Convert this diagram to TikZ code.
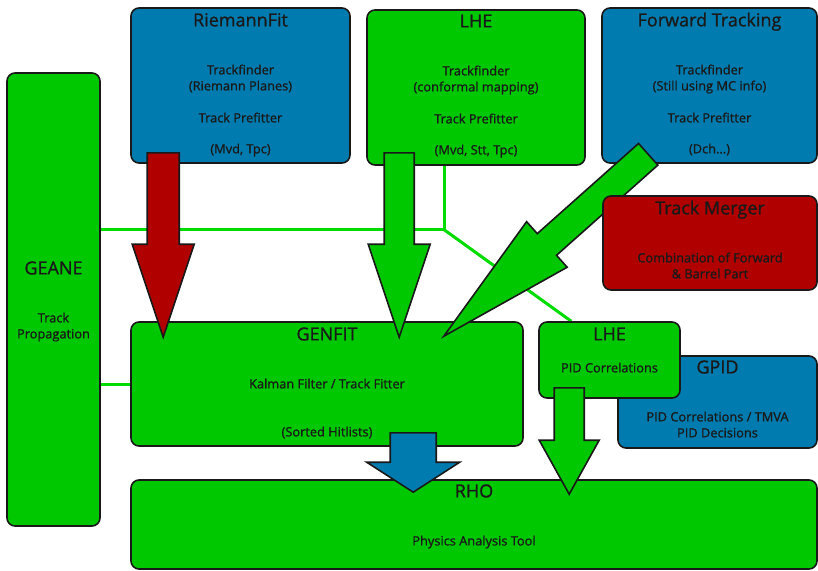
\documentclass[tikz,border=0pt]{standalone}
\usepackage{fontspec}
\setmainfont{Open Sans}[FakeBold=1]
\usetikzlibrary{calc,positioning}
\definecolor{fitgreen}{RGB}{0,200,0}
\definecolor{fitblue}{RGB}{0,123,176}
\definecolor{fitred}{RGB}{176,0,0}
\definecolor{wiregreen}{RGB}{0,220,0}
\definecolor{edge}{RGB}{25,25,25}
\pgfdeclarelayer{bg}
\pgfsetlayers{bg,main}
\newcommand{\titlef}{\fontsize{18}{22}\selectfont\rule{0pt}{15pt}}
\tikzstyle{box} = [draw=edge,line width=1.6pt,rounded corners=8pt]
\tikzstyle{boxtext} = [inner sep=0pt,align=center,text=edge,font=\fontsize{12.8}{16}\selectfont]
\tikzstyle{wire} = [wiregreen,line width=3pt]
\tikzstyle{bigarrow} = [draw=edge,line width=1.6pt,line join=miter]
% #1 start, #2 tip, #3 half shaft, #4 half head, #5 head length, #6 fill
\newcommand{\blockarrow}[6]{%
	\coordinate (hb) at ($(#2)!#5!(#1)$);
	\draw[bigarrow,fill=#6] ($(#1)!#3!90:(#2)$) -- ($(hb)!#3!-90:(#1)$) -- ($(hb)!#4!-90:(#1)$) -- (#2)
		-- ($(hb)!#4!90:(#1)$) -- ($(hb)!#3!90:(#1)$) -- ($(#1)!#3!-90:(#2)$) -- cycle;
}

\begin{document}
\begin{tikzpicture}[x=1pt,y=-1pt]
	\useasboundingbox (0,0) rectangle (818,570);
	% boxes
	\node[box,fill=fitgreen,minimum width=93pt,minimum height=453pt] (geane) at (53.5,299.5) {};
	\node[box,fill=fitblue,minimum width=219pt,minimum height=155pt] (riemann) at (240.5,85.5) {};
	\node[box,fill=fitgreen,minimum width=218pt,minimum height=155pt] (lhe) at (476,87.5) {};
	\node[box,fill=fitblue,minimum width=215pt,minimum height=155pt] (fwd) at (709.5,85.5) {};
	\node[box,fill=fitgreen,minimum width=392pt,minimum height=124pt] (genfit) at (327,384) {};
	\node[box,fill=fitblue,minimum width=199pt,minimum height=92pt] (gpid) at (717.5,402) {};
	\node[box,fill=fitgreen,minimum width=141pt,minimum height=76pt] (lhepid) at (609.5,360) {};
	\node[box,fill=fitgreen,minimum width=686pt,minimum height=89pt] (rho) at (474,524.5) {};

	\node[boxtext,below=187pt of geane.north] (geanetxt) {{\titlef GEANE}\\[32pt]Track\\Propagation};
	\node[boxtext,below=4pt of riemann.north] (riemanntxt) {{\titlef RiemannFit}\\[32pt]Trackfinder\\(Riemann Planes)\\[16pt]Track Prefitter\\[15pt](Mvd, Tpc)};
	\node[boxtext,below=3pt of lhe.north] (lhetxt) {{\titlef LHE}\\[32pt]Trackfinder\\(conformal mapping)\\[16pt]Track Prefitter\\[15pt](Mvd, Stt, Tpc)};
	\node[boxtext,below=4pt of fwd.north] (fwdtxt) {{\titlef Forward Tracking}\\[32pt]Trackfinder\\(Still using MC info)\\[16pt]Track Prefitter\\[15pt](Dch...)};
	\node[boxtext,below=4pt of genfit.north] (genfittxt) {{\titlef GENFIT}\\[32pt]Kalman Filter / Track Fitter\\[32pt](Sorted Hitlists)};
	\node[boxtext,below=3pt of gpid.north] (gpidtxt) {{\titlef GPID}\\[32pt]PID Correlations / TMVA\\PID Decisions};
	\node[boxtext,below=4pt of lhepid.north] (lhepidtxt) {{\titlef LHE}\\[16pt]PID Correlations};
	\node[boxtext,below=3pt of rho.north] (rhotxt) {{\titlef RHO}\\[32pt]Physics Analysis Tool};

	% links
	\coordinate (jn) at ($(lhe.south west)+(78,64)$);
	\begin{pgfonlayer}{bg}
		\draw[wire] (geane.east |- jn) -- (jn) -- (jn |- lhe.south);
		\draw[wire] (jn) -- ([xshift=33pt]lhepid.north west);
		\draw[wire] (geane.east |- genfit.west) -- (genfit.west);
	\end{pgfonlayer}

	% arrows
	\coordinate (rfs) at ([shift={(33,-11)}]riemann.south west);
	\coordinate (rft) at ($(rfs |- genfit.north)+(0,16)$);
	\blockarrow{rfs}{rft}{16pt}{31pt}{93pt}{fitred}
	\coordinate (lfs) at ([shift={(33,-13)}]lhe.south west);
	\coordinate (lft) at ($(lfs |- genfit.north)+(0,16)$);
	\blockarrow{lfs}{lft}{15pt}{31pt}{93pt}{fitgreen}
	\coordinate (ffs) at ([shift={(47,-9.5)}]fwd.south west);
	\coordinate (fft) at ([shift={(-80,15)}]genfit.north east);
	\blockarrow{ffs}{fft}{14.5pt}{30.5pt}{138pt}{fitgreen}

	\node[box,fill=fitred,minimum width=214pt,minimum height=94pt] (merger) at (710,243) {};
	\node[boxtext,below=4pt of merger.north] (mergertxt) {{\titlef Track Merger}\\[32pt]Combination of Forward\\\& Barrel Part};

	\coordinate (gfs) at ([shift={(283,-14)}]genfit.south west);
	\coordinate (gft) at ($(gfs |- rho.north)+(0,13)$);
	\blockarrow{gfs}{gft}{23pt}{46.5pt}{30pt}{fitblue}
	\coordinate (lps) at ([shift={(31,-11)}]lhepid.south west);
	\coordinate (lpt) at ($(lps |- rho.north)+(0,15)$);
	\blockarrow{lps}{lpt}{15pt}{30pt}{54pt}{fitgreen}
\end{tikzpicture}
\end{document}
